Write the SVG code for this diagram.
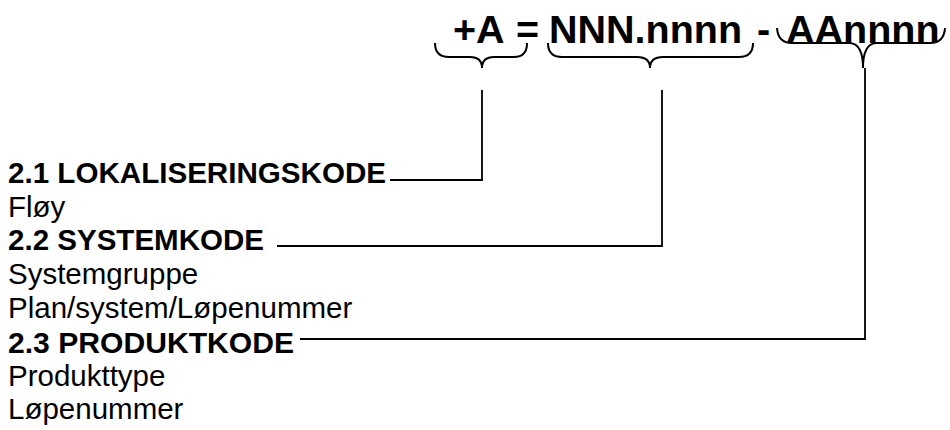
<svg xmlns="http://www.w3.org/2000/svg" width="950" height="430" viewBox="0 0 950 430">
<style>
.f{font-family:"Liberation Sans",Arial,sans-serif;fill:#000}
.top{font-size:39.5px;font-weight:bold}
.h{font-size:29.5px;font-weight:bold}
.t{font-size:29.5px}
.br{fill:none;stroke:#000;stroke-width:2}
.ln{fill:none;stroke:#000;stroke-width:1.8}
</style>
<rect width="950" height="430" fill="#fff"/>
<g id="formula">
<text class="f top" x="453" y="43">+A</text>
<text class="f top" x="516" y="43">=</text>
<text class="f top" x="549" y="43">NNN.nnnn</text>
<text class="f top" x="757" y="43">-</text>
<text class="f top" x="786" y="43">AAnnnn</text>
</g>
<g id="brace-a"><path class="br" d="M435,43 Q435,57 449,57 L470,57 Q482,57 482,68 Q482,57 494,57 L514,57 Q527,57 527,43"/></g>
<g id="brace-n"><path class="br" d="M548,43 Q548,57 562,57 L637,57 Q650,57 650,68 Q650,57 663,57 L739,57 Q753,57 753,43"/></g>
<g id="brace-p"><path class="br" d="M777,28 Q778,43 792,43 L850,43 Q863,44 863,68 Q863,44 876,43 L930,43 Q944,43 945,28"/></g>
<g id="node-lok">
<text class="f h" x="8" y="183" textLength="378" lengthAdjust="spacingAndGlyphs">2.1 LOKALISERINGSKODE</text>
<text class="f t" x="8" y="216.7">Fløy</text>
</g>
<g id="node-sys">
<text class="f h" x="8" y="250" textLength="256" lengthAdjust="spacingAndGlyphs">2.2 SYSTEMKODE</text>
<text class="f t" x="8" y="284">Systemgruppe</text>
<text class="f t" x="8" y="317.8">Plan/system/Løpenummer</text>
</g>
<g id="node-prod">
<text class="f h" x="8" y="352.5" textLength="286" lengthAdjust="spacingAndGlyphs">2.3 PRODUKTKODE</text>
<text class="f t" x="8" y="385.5">Produkttype</text>
<text class="f t" x="8" y="419">Løpenummer</text>
</g>
<g id="connectors">
<polyline class="ln" points="482,90 482,180 390,180"/>
<polyline class="ln" points="662,90 662,246 277,246"/>
<polyline class="ln" points="865,68 865,339 300,339"/>
</g>
</svg>
